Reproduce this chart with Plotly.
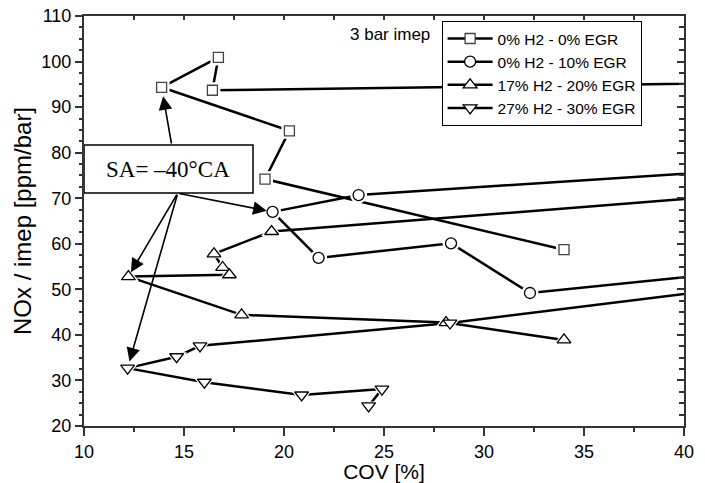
import plotly.graph_objects as go

# COV [%] and NOx/imep [ppm/bar] for each spark-advance sweep at 3 bar imep.
# The first/last points of some sweeps lie beyond COV = 40 % and are clipped by the axis.
sq_x = [55.0, 16.42, 16.72, 13.88, 20.27, 19.05, 34.0]
sq_y = [96.0, 93.7, 100.9, 94.35, 84.8, 74.2, 58.7]

ci_x = [55.0, 23.73, 19.43, 21.73, 28.35, 32.3, 55.0]
ci_y = [79.7, 70.7, 67.0, 56.9, 60.1, 49.2, 59.4]

tu_x = [55.0, 19.38, 16.5, 16.93, 17.27, 12.22, 17.88, 28.1, 34.0]
tu_y = [75.0, 62.7, 57.8, 54.8, 53.2, 52.8, 44.4, 42.7, 38.9]

td_x = [24.23, 24.9, 20.88, 16.02, 12.18, 14.63, 15.8, 28.3, 55.0]
td_y = [24.4, 28.1, 26.8, 29.6, 32.7, 35.2, 37.6, 42.6, 57.2]

series_names = ["0% H2 - 0% EGR", "0% H2 - 10% EGR",
                "17% H2 - 20% EGR", "27% H2 - 30% EGR"]

# index of the SA = -40 degCA point in each sweep
sa40_index = [3, 2, 5, 4]

x_range = [10, 40]
y_range = [20, 110]

series = [
    (sq_x, sq_y, "square", 10, "#444444"),
    (ci_x, ci_y, "circle", 11, "black"),
    (tu_x, tu_y, "triangle-up", 12, "black"),
    (td_x, td_y, "triangle-down", 12, "black"),
]

fig = go.Figure()

# lines (with legend)
for (xs, ys, sym, size, mcol), name in zip(series, series_names):
    fig.add_trace(go.Scatter(
        x=xs, y=ys, mode="lines+markers", name=name,
        line=dict(color="black", width=2.5),
        marker=dict(symbol=sym, size=size, color="white",
                    line=dict(color=mcol, width=1.3)),
    ))

# white halos leave a small gap between the lines and the symbols
for xs, ys, sym, size, mcol in series:
    fig.add_trace(go.Scatter(
        x=xs, y=ys, mode="markers", showlegend=False, hoverinfo="skip",
        marker=dict(symbol=sym, size=size + 6, color="white",
                    line=dict(width=0)),
    ))

# symbols on top
for xs, ys, sym, size, mcol in series:
    fig.add_trace(go.Scatter(
        x=xs, y=ys, mode="markers", showlegend=False,
        marker=dict(symbol=sym, size=size, color="white",
                    line=dict(color=mcol, width=1.3)),
    ))

# carrier for the top/right frame axes
fig.add_trace(go.Scatter(x=[], y=[], xaxis="x2", yaxis="y2",
                         showlegend=False, hoverinfo="skip"))

axis_col = "#333333"
font_fam = "Liberation Sans, Arial, sans-serif"

fig.update_layout(
    width=705, height=483,
    margin=dict(l=84, r=21, t=16, b=57, autoexpand=False),
    paper_bgcolor="white", plot_bgcolor="white",
    font=dict(family=font_fam, color="black", size=18),
    showlegend=True,
    legend=dict(
        x=0.596, y=0.988, xanchor="left", yanchor="top",
        bgcolor="white", bordercolor="black", borderwidth=1,
        font=dict(size=15.5, family=font_fam, color="black"),
        tracegroupgap=0, itemwidth=45,
    ),
    xaxis=dict(
        range=x_range, dtick=5, tick0=10, automargin=False,
        ticks="outside", ticklen=8, tickwidth=1.5, tickcolor=axis_col,
        minor=dict(dtick=2.5, ticklen=4, tickwidth=1.5, tickcolor=axis_col,
                   ticks="outside", showgrid=False),
        showline=True, linecolor=axis_col, linewidth=2,
        showgrid=False, zeroline=False,
        tickfont=dict(size=18),
        title=dict(text="COV [%]", font=dict(size=21), standoff=9),
    ),
    yaxis=dict(
        range=y_range, dtick=10, tick0=20, automargin=False,
        ticks="outside", ticklen=7, tickwidth=1.5, tickcolor=axis_col,
        minor=dict(dtick=2.5, ticklen=3, tickwidth=1.5, tickcolor=axis_col,
                   ticks="outside", showgrid=False),
        showline=True, linecolor=axis_col, linewidth=2,
        showgrid=False, zeroline=False,
        tickfont=dict(size=18),
        title=dict(text="NOx / imep [ppm/bar]", font=dict(size=24), standoff=3),
    ),
    xaxis2=dict(
        overlaying="x", side="top", anchor="y2", range=x_range, dtick=5, tick0=10,
        automargin=False,
        ticks="inside", ticklen=4, tickwidth=1.5, tickcolor=axis_col,
        minor=dict(dtick=2.5, ticklen=4, tickwidth=1.5, tickcolor=axis_col,
                   ticks="inside", showgrid=False),
        showline=True, linecolor=axis_col, linewidth=2,
        showticklabels=False, showgrid=False, zeroline=False,
    ),
    yaxis2=dict(
        overlaying="y", side="right", anchor="x2", range=y_range, dtick=10, tick0=20,
        automargin=False,
        ticks="inside", ticklen=7, tickwidth=1.5, tickcolor=axis_col,
        minor=dict(dtick=2.5, ticklen=5, tickwidth=1.5, tickcolor=axis_col,
                   ticks="inside", showgrid=False),
        showline=True, linecolor=axis_col, linewidth=2,
        showticklabels=False, showgrid=False, zeroline=False,
    ),
)

# "SA = -40 degCA" label box
fig.add_shape(type="rect", xref="x", yref="y",
              x0=10, x1=18.45, y0=71.15, y1=81.68,
              line=dict(color="black", width=1.5), fillcolor="white",
              layer="above")
fig.add_annotation(x=14.2, y=76.4, xref="x", yref="y",
                   text="SA= \u201340\u00b0CA", showarrow=False,
                   font=dict(family="Liberation Serif, Times New Roman, serif",
                             size=23, color="black"))

# arrows from the label to the SA = -40 points
tails = [(14.385, 81.68), (14.685, 71.1), (14.685, 71.1), (14.685, 71.1)]
standoffs = [9, 6, 5, 7]
for (xs, ys, *_), idx, (tx, ty), so in zip(series, sa40_index, tails, standoffs):
    fig.add_annotation(
        x=xs[idx], y=ys[idx], xref="x", yref="y",
        ax=tx, ay=ty, axref="x", ayref="y",
        text="", showarrow=True, arrowhead=2, arrowsize=1.7,
        arrowwidth=1.6, arrowcolor="black", standoff=so,
    )

fig.add_annotation(x=0.44, y=0.9537, xref="paper", yref="paper",
                   text="3 bar imep", showarrow=False,
                   xanchor="left", yanchor="middle",
                   font=dict(size=17, family=font_fam, color="black"))

fig.write_html("out.html")
